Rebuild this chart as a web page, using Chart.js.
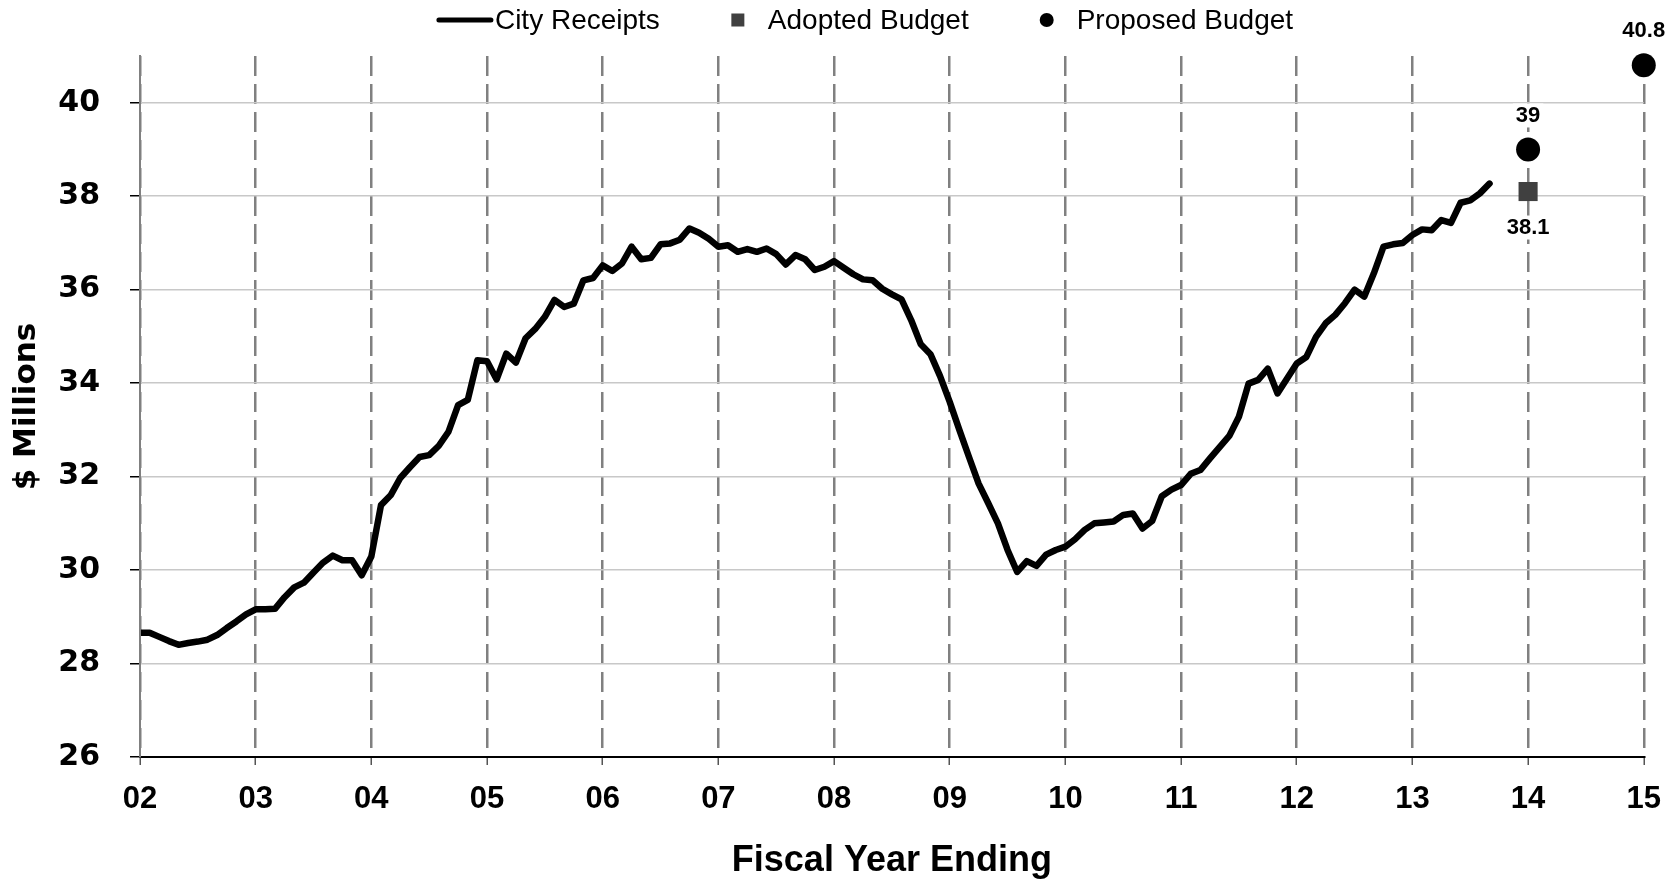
<!DOCTYPE html>
<html>
<head>
<meta charset="utf-8">
<script src="https://cdn.jsdelivr.net/npm/chart.js@4.4.1/dist/chart.umd.min.js"></script>
<style>
  html, body { margin: 0; padding: 0; background: #fff; }
  canvas { display: block; }
</style>
</head>
<body>
<canvas id="chart-receipts" width="1677" height="883"></canvas>
<script>
// monthly city receipts ($ millions), first value is the start of FY02
var receiptsStartYear = 2002;
var cityReceipts = [
    28.66, 28.66, 28.57, 28.48, 28.40, 28.44, 28.47, 28.51, 28.61, 28.76, 28.90, 29.05, // 02
    29.16, 29.16, 29.17, 29.42, 29.63, 29.73, 29.95, 30.16, 30.31, 30.21, 30.21, 29.89, // 03
    30.29, 31.39, 31.60, 31.97, 32.20, 32.42, 32.46, 32.66, 32.96, 33.53, 33.64, 34.49, // 04
    34.47, 34.08, 34.63, 34.44, 34.96, 35.16, 35.42, 35.78, 35.63, 35.70, 36.20, 36.25, // 05
    36.52, 36.40, 36.56, 36.92, 36.65, 36.68, 36.97, 36.99, 37.07, 37.31, 37.22, 37.09, // 06
    36.92, 36.95, 36.81, 36.87, 36.81, 36.88, 36.76, 36.54, 36.74, 36.65, 36.42, 36.49, // 07
    36.61, 36.47, 36.33, 36.22, 36.20, 36.02, 35.90, 35.79, 35.35, 34.83, 34.62, 34.15, // 08
    33.60, 33.00, 32.42, 31.85, 31.43, 31.00, 30.43, 29.96, 30.19, 30.09, 30.33, 30.43, // 09
    30.50, 30.66, 30.86, 31.00, 31.02, 31.04, 31.18, 31.21, 30.89, 31.05, 31.58, 31.72, // 10
    31.82, 32.06, 32.14, 32.39, 32.63, 32.87, 33.28, 33.99, 34.07, 34.31, 33.78, 34.10, // 11
    34.42, 34.56, 34.99, 35.28, 35.46, 35.71, 36.00, 35.85, 36.35, 36.92, 36.97, 37.00, // 12
    37.17, 37.29, 37.27, 37.49, 37.43, 37.86, 37.91, 38.06, 38.27                       // 13
];

var budgetYears = [2014, 2015];
var adoptedBudget = [38.1, null];
var proposedBudget = [39, 40.8];

var yearLabels = ['02', '03', '04', '05', '06', '07', '08', '09', '10', '11', '12', '13', '14', '15'];

var FONT = '"Liberation Sans", Arial, sans-serif';
var WIDE_FONT = '"DejaVu Sans", Verdana, sans-serif';

function toPoints(years, values) {
    var pts = [];
    for (var i = 0; i < years.length; i++) {
        if (values[i] !== null) pts.push({ x: years[i], y: values[i] });
    }
    return pts;
}

var receiptPoints = cityReceipts.map(function (v, i) {
    return { x: receiptsStartYear + i / 12, y: v };
});

// legend drawn in the style of the original (line sample, square, dot)
var topLegend = {
    id: 'topLegend',
    afterDraw: function (chart) {
        var ctx = chart.ctx;
        var y = 20;
        var slot = 56, gap = 50;
        var items = chart.data.datasets;
        ctx.save();
        ctx.font = '28px ' + FONT;
        ctx.textBaseline = 'middle';
        var widths = items.map(function (ds) { return slot + 2 + ctx.measureText(ds.label).width; });
        var total = widths.reduce(function (a, b) { return a + b; }, 0) + gap * (items.length - 1);
        var x = 865 - total / 2;
        items.forEach(function (ds, i) {
            var cx = x + slot / 2;
            if (ds.pointStyle === 'rect') {
                ctx.fillStyle = ds.backgroundColor;
                ctx.fillRect(cx - 6.5, y - 6.5, 13, 13);
            } else if (ds.pointStyle === 'circle') {
                ctx.fillStyle = ds.backgroundColor;
                ctx.beginPath();
                ctx.arc(cx, y, 7, 0, Math.PI * 2);
                ctx.fill();
            } else {
                ctx.strokeStyle = ds.borderColor;
                ctx.lineWidth = 5;
                ctx.lineCap = 'round';
                ctx.beginPath();
                ctx.moveTo(x + 2, y);
                ctx.lineTo(x + slot - 2, y);
                ctx.stroke();
            }
            ctx.fillStyle = '#000';
            ctx.fillText(ds.label, x + slot + 2, y + 1);
            x += widths[i] + gap;
        });
        ctx.restore();
    }
};

// value labels next to the budget markers
var budgetLabels = {
    id: 'budgetLabels',
    afterDatasetsDraw: function (chart) {
        var ctx = chart.ctx;
        ctx.save();
        ctx.font = 'bold 22px ' + FONT;
        ctx.textAlign = 'center';
        ctx.textBaseline = 'middle';
        chart.data.datasets.forEach(function (ds, di) {
            if (ds.type !== 'scatter') return;
            var below = ds.pointStyle === 'rect';
            chart.getDatasetMeta(di).data.forEach(function (pt, j) {
                var text = String(ds.data[j].y);
                var w = ctx.measureText(text).width;
                var ty = pt.y + (below ? 36 : -34);
                ctx.fillStyle = '#fff';
                ctx.fillRect(pt.x - w / 2 - 3, ty - 12, w + 6, 24);
                ctx.fillStyle = '#000';
                ctx.fillText(text, pt.x, ty);
            });
        });
        ctx.restore();
    }
};

var ctx = document.getElementById('chart-receipts');
new Chart(ctx, {
    type: 'line',
    data: {
        datasets: [
            {
                label: 'City Receipts',
                data: receiptPoints,
                borderColor: '#000000',
                backgroundColor: '#000000',
                borderWidth: 6.5,
                borderJoinStyle: 'round',
                borderCapStyle: 'round',
                pointRadius: 0,
                tension: 0,
                fill: false
            },
            {
                type: 'scatter',
                label: 'Adopted Budget',
                data: toPoints(budgetYears, adoptedBudget),
                pointStyle: 'rect',
                pointRadius: 13.5,
                backgroundColor: '#404040',
                borderColor: '#404040',
                borderWidth: 0,
                clip: false
            },
            {
                type: 'scatter',
                label: 'Proposed Budget',
                data: toPoints(budgetYears, proposedBudget),
                pointStyle: 'circle',
                pointRadius: 12,
                backgroundColor: '#000000',
                borderColor: '#000000',
                borderWidth: 0,
                clip: false
            }
        ]
    },
    options: {
        responsive: false,
        animation: false,
        events: [],
        layout: { padding: { top: 56, right: 32, left: 0, bottom: 0 } },
        plugins: {
            legend: { display: false },
            tooltip: { enabled: false }
        },
        scales: {
            x: {
                type: 'linear',
                min: 2002,
                max: 2015,
                afterFit: function (scale) { scale.height = 126; },
                ticks: {
                    stepSize: 1,
                    autoSkip: false,
                    maxRotation: 0,
                    padding: 16,
                    color: '#000',
                    font: { family: FONT, size: 31, weight: 'bold' },
                    callback: function (value, index) { return yearLabels[index]; }
                },
                grid: {
                    color: '#808080',
                    lineWidth: 2.5,
                    tickColor: '#555555',
                    tickWidth: 1.5,
                    tickLength: 8,
                    tickBorderDash: []
                },
                border: { color: '#000000', width: 2, dash: [20, 8], z: 1 },
                title: {
                    display: true,
                    text: 'Fiscal Year Ending',
                    color: '#000',
                    padding: 0,
                    font: { family: FONT, size: 36, weight: 'bold' }
                }
            },
            y: {
                min: 26,
                max: 41,
                afterFit: function (scale) { scale.width = 140; },
                ticks: {
                    stepSize: 2,
                    includeBounds: false,
                    padding: 30,
                    color: '#000',
                    font: { family: WIDE_FONT, size: 30, weight: 'bold' }
                },
                grid: {
                    color: '#c8c8c8',
                    lineWidth: 1.5,
                    tickColor: '#000000',
                    tickWidth: 1.5,
                    tickLength: 10
                },
                border: { color: '#808080', width: 2, z: 1 },
                title: {
                    display: true,
                    text: '$ Millions',
                    color: '#000',
                    padding: { top: 8, bottom: 0 },
                    font: { family: WIDE_FONT, size: 31, weight: 'bold' }
                }
            }
        }
    },
    plugins: [topLegend, budgetLabels]
});
</script>
</body>
</html>
